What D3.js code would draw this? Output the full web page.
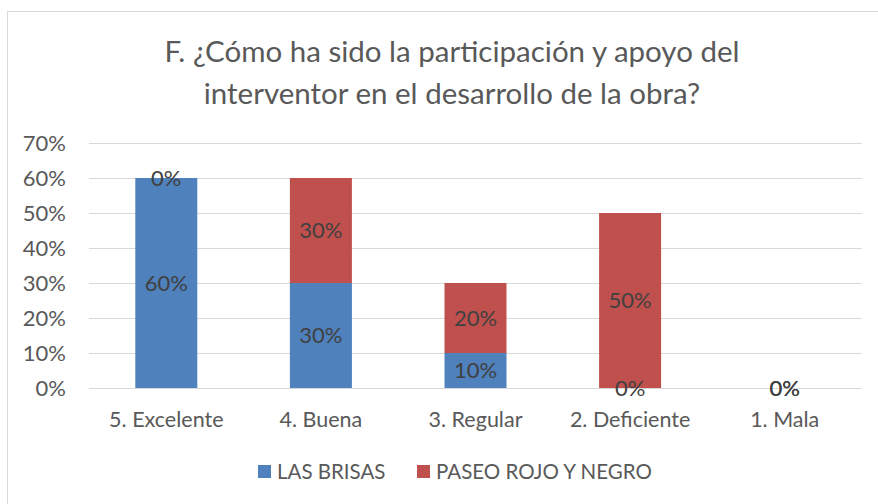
<!DOCTYPE html>
<html>
<head>
<meta charset="utf-8">
<script src="https://cdn.jsdelivr.net/npm/d3@7"></script>
<style>
  body { margin: 0; background: #fff; }
  svg { display: block; font-family: Lato, "Open Sans", sans-serif; }
</style>
</head>
<body>
<div id="chart"></div>
<script>
// Data
const categories = ["5. Excelente", "4. Buena", "3. Regular", "2. Deficiente", "1. Mala"];
const lasBrisas = [0.60, 0.30, 0.10, 0.00, 0.00];
const paseoRojo = [0.00, 0.30, 0.20, 0.50, 0.00];
const seriesNames = ["LAS BRISAS", "PASEO ROJO Y NEGRO"];
const yTicks = [0, 0.1, 0.2, 0.3, 0.4, 0.5, 0.6, 0.7];

const W = 878, H = 504;
const colors = ["#4F81BD", "#C0504D"];
const pct = d3.format(".0%");

const svg = d3.select("#chart").append("svg")
    .attr("width", W).attr("height", H);

// chart border
svg.append("rect")
    .attr("x", 7.5).attr("y", 11.5)
    .attr("width", W + 10).attr("height", H + 10)
    .attr("fill", "#fff").attr("stroke", "#d9d9d9");

// title
const title = svg.append("text")
    .attr("text-anchor", "middle")
    .attr("fill", "#595959")
    .style("font-size", "29.5px");
title.append("tspan").attr("x", 452).attr("y", 62)
    .text("F. ¿Cómo ha sido la participación y apoyo del");
title.append("tspan").attr("x", 452).attr("y", 104)
    .text("interventor en el desarrollo de la obra?");

const x0 = 89, x1 = 862, yTop = 143, yBot = 388;

const x = d3.scaleBand().domain(categories).range([x0, x1]).paddingInner(0).paddingOuter(0);
const y = d3.scaleLinear().domain([0, 0.7]).range([yBot, yTop]);
const barW = 62;

// gridlines
svg.append("g").selectAll("line")
    .data(yTicks)
    .join("line")
    .attr("x1", x0).attr("x2", x1)
    .attr("y1", d => Math.round(y(d)) + 0.5)
    .attr("y2", d => Math.round(y(d)) + 0.5)
    .attr("stroke", "#d9d9d9").attr("stroke-width", 1);

// y axis labels
svg.append("g").selectAll("text")
    .data(yTicks)
    .join("text")
    .attr("x", 66)
    .attr("y", d => y(d))
    .attr("dy", "0.36em")
    .attr("text-anchor", "end")
    .attr("fill", "#595959")
    .style("font-size", "22px")
    .text(d => pct(d));

// stacked data
const rows = categories.map((c, i) => ({ cat: c, s0: lasBrisas[i], s1: paseoRojo[i] }));
const stack = d3.stack().keys(["s0", "s1"])(rows);

stack.forEach((layer, k) => {
    svg.append("g").selectAll("rect")
        .data(layer)
        .join("rect")
        .attr("x", d => x(d.data.cat) + x.bandwidth() / 2 - barW / 2)
        .attr("width", barW)
        .attr("y", d => y(d[1]))
        .attr("height", d => y(d[0]) - y(d[1]))
        .attr("fill", colors[k]);
});

// data labels
stack.forEach((layer, k) => {
    svg.append("g").selectAll("text")
        .data(layer)
        .join("text")
        .attr("x", d => x(d.data.cat) + x.bandwidth() / 2)
        .attr("y", d => y((d[0] + d[1]) / 2))
        .attr("dy", "0.36em")
        .attr("text-anchor", "middle")
        .attr("fill", "#404040")
        .style("font-size", "22px")
        .text(d => pct(d[1] - d[0]));
});

// x labels
svg.append("g").selectAll("text")
    .data(categories)
    .join("text")
    .attr("x", d => x(d) + x.bandwidth() / 2)
    .attr("y", 427)
    .attr("text-anchor", "middle")
    .attr("fill", "#595959")
    .style("font-size", "21.5px")
    .text(d => d);

// legend
const legendX = [258, 417];
seriesNames.forEach((name, i) => {
    svg.append("rect")
        .attr("x", legendX[i]).attr("y", 465)
        .attr("width", 13).attr("height", 13)
        .attr("fill", colors[i]);
    svg.append("text")
        .attr("x", legendX[i] + 19).attr("y", 479)
        .attr("fill", "#595959")
        .style("font-size", "20.5px")
        .text(name);
});
</script>
</body>
</html>
